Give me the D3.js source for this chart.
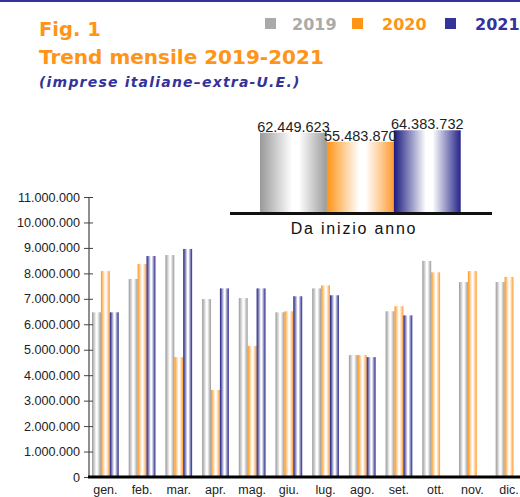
<html>
<head>
<script src="https://d3js.org/d3.v7.min.js"></script>
<style>
  body { margin: 0; background: #fff; }
  svg { display: block; }
</style>
</head>
<body>
<svg id="chart" width="520" height="497"></svg>
<script>
  // data
  const months = ["gen.", "feb.", "mar.", "apr.", "mag.", "giu.", "lug.", "ago.", "set.", "ott.", "nov.", "dic."];
  const years = ["2019", "2020", "2021"];
  const values2019 = [6470000, 7780000, 8720000, 6990000, 7030000, 6470000, 7410000, 4790000, 6510000, 8490000, 7660000, 7660000];
  const values2020 = [8090000, 8370000, 4710000, 3420000, 5150000, 6510000, 7530000, 4790000, 6710000, 8040000, 8090000, 7860000];
  const values2021 = [6470000, 8680000, 8960000, 7410000, 7410000, 7100000, 7140000, 4710000, 6350000, null, null, null];
  const ytdTotals = [62449623, 55483870, 64383732];
  const yTicks = [0, 1e6, 2e6, 3e6, 4e6, 5e6, 6e6, 7e6, 8e6, 9e6, 10e6, 11e6];

  const svg = d3.select("#chart");
  const fmt = d => d3.format(",")(d).replace(/,/g, ".");

  const colorScale = d3.scaleOrdinal().domain(years).range(["#999999", "#ff9416", "#1a1a7e"]);
  const edgeScale = d3.scaleOrdinal().domain(years).range(["#9a9a9a", "#ff9c33", "#24248a"]);

  // gradients: dark edges, white in the middle
  const defs = svg.append("defs");
  years.forEach(y => {
    const g = defs.append("linearGradient").attr("id", "grad" + y)
      .attr("x1", "0%").attr("x2", "100%").attr("y1", "0%").attr("y2", "0%");
    g.append("stop").attr("offset", "0%").attr("stop-color", colorScale(y));
    g.append("stop").attr("offset", "48%").attr("stop-color", "#ffffff");
    g.append("stop").attr("offset", "58%").attr("stop-color", "#ffffff");
    g.append("stop").attr("offset", "100%").attr("stop-color", edgeScale(y));
  });

  // top rule
  svg.append("rect").attr("x", 0).attr("y", 0).attr("width", 520).attr("height", 2).attr("fill", "#333399");

  // titles
  svg.append("text").attr("x", 39).attr("y", 36).text("Fig. 1")
    .attr("font-family", "DejaVu Sans").attr("font-weight", "bold").attr("font-size", 19.5).attr("fill", "#ff9416");
  svg.append("text").attr("x", 39).attr("y", 64).text("Trend mensile 2019-2021")
    .attr("font-family", "DejaVu Sans").attr("font-weight", "bold").attr("font-size", 20).attr("fill", "#ff9416");
  svg.append("text").attr("x", 39).attr("y", 87).text("(imprese italiane\u2013extra-U.E.)")
    .attr("font-family", "DejaVu Sans").attr("font-weight", "bold").attr("font-style", "italic")
    .attr("font-size", 14).attr("letter-spacing", 1.2).attr("fill", "#333399");

  // legend
  const legendSwatch = ["#aaaaaa", "#ff9416", "#333399"];
  const legendText = ["#aaaaaa", "#ff9416", "#333399"];
  const legendX = [265, 352, 445];
  const legendTx = [292, 382, 475];
  years.forEach((y, i) => {
    svg.append("rect").attr("x", legendX[i]).attr("y", 18).attr("width", 11).attr("height", 11)
      .attr("fill", legendSwatch[i]);
    svg.append("text").attr("x", legendTx[i]).attr("y", 29.5).text(y)
      .attr("font-family", "DejaVu Sans").attr("font-weight", "bold").attr("font-size", 16).attr("fill", legendText[i]);
  });

  // ---- inset: year to date ----
  const ix = d3.scaleBand().domain(years).range([260, 460.7]).padding(0);
  const iy = d3.scaleLinear().domain([0, 70000000]).range([213.5, 213.5 - 90.5]);
  const inset = svg.append("g");
  inset.selectAll("rect.ytd").data(years).join("rect").attr("class", "ytd")
    .attr("x", d => ix(d)).attr("width", ix.bandwidth())
    .attr("y", (d, i) => iy(ytdTotals[i])).attr("height", (d, i) => iy(0) - iy(ytdTotals[i]))
    .attr("fill", d => `url(#grad${d})`);
  inset.selectAll("text.ytd").data(years).join("text").attr("class", "ytd")
    .attr("x", d => ix(d) + ix.bandwidth() / 2).attr("y", (d, i) => iy(ytdTotals[i]) - 1)
    .attr("text-anchor", "middle").text((d, i) => fmt(ytdTotals[i]))
    .attr("font-family", "Liberation Sans").attr("font-size", 14.5).attr("fill", "#222");
  inset.append("line").attr("x1", 230).attr("x2", 492).attr("y1", iy(0)).attr("y2", iy(0))
    .attr("stroke", "#111").attr("stroke-width", 3);
  inset.append("text").attr("x", 354).attr("y", 233.5).attr("text-anchor", "middle").text("Da inizio anno")
    .attr("font-family", "Liberation Sans").attr("font-size", 16).attr("letter-spacing", 1.8).attr("fill", "#111");

  // ---- monthly bars ----
  const x = d3.scaleBand().domain(months).range([89, 525.4]).paddingInner(0.272).paddingOuter(0.082);
  const xs = d3.scaleBand().domain(years).range([0, x.bandwidth()]).padding(0);
  const y = d3.scaleLinear().domain([0, 11000000]).range([477, 197]);

  const series = [values2019, values2020, values2021];
  const rows = [];
  months.forEach((m, i) => years.forEach((yr, j) => {
    if (series[j][i] != null) rows.push({ month: m, year: yr, value: series[j][i] });
  }));

  svg.append("g").selectAll("rect").data(rows).join("rect")
    .attr("x", d => x(d.month) + xs(d.year)).attr("width", xs.bandwidth())
    .attr("y", d => y(d.value)).attr("height", d => y(0) - y(d.value))
    .attr("fill", d => `url(#grad${d.year})`);

  // y axis
  const yAxis = svg.append("g").attr("transform", "translate(89,0)")
    .call(d3.axisLeft(y).tickValues(yTicks).tickFormat(fmt).tickSize(5).tickPadding(4));
  yAxis.select(".domain").attr("stroke", "#444").attr("stroke-width", 1.2).attr("d", `M0,${y(11e6)}V${y(0)}`);
  yAxis.selectAll(".tick line").attr("stroke", "#444").attr("x1", 4);
  yAxis.selectAll(".tick text").attr("font-family", "Liberation Sans").attr("font-size", 12.6).attr("fill", "#222");

  // x axis
  const xAxis = svg.append("g").attr("transform", `translate(0,${y(0)})`)
    .call(d3.axisBottom(x).tickSize(0).tickPadding(8));
  xAxis.select(".domain").attr("stroke", "#000").attr("stroke-width", 3).attr("d", `M88,0H520`);
  xAxis.selectAll(".tick text").attr("font-family", "Liberation Sans").attr("font-size", 12.5).attr("fill", "#222");
</script>
</body>
</html>
